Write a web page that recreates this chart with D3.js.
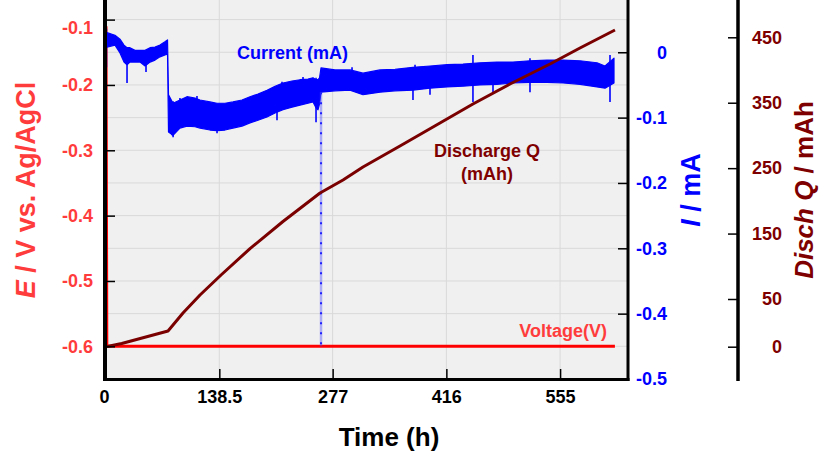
<!DOCTYPE html>
<html><head><meta charset="utf-8">
<script src="https://cdn.jsdelivr.net/npm/d3@7"></script>
<style>
body{margin:0;background:#fff;}
svg text{font-family:"Liberation Sans",Arial,sans-serif;font-weight:bold;}
</style></head><body><svg id="c" width="836" height="468"></svg>
<script>
// ---------- data ----------
const timeTicks = [0, 138.5, 277, 416, 555];
const eTicks = [-0.1, -0.2, -0.3, -0.4, -0.5, -0.6];
const eGrid = [-0.1, -0.15, -0.2, -0.25, -0.3, -0.35, -0.4, -0.45, -0.5, -0.55, -0.6];
const iTicks = [0, -0.1, -0.2, -0.3, -0.4, -0.5];
const qTicks = [0, 50, 150, 250, 350, 450];

// current (mA): noisy band, upper and lower envelope
const currentTime = [1.2, 11, 17.1, 22, 25.7, 29.3, 35.4, 41.6, 47.7, 53.8, 59.9, 66, 72.1, 75.2, 76.4, 81.9, 90.4, 99, 108.8, 114.9, 127.1, 135.7, 145.4, 155.2, 166.2, 176, 185.8, 196.8, 206.6, 216.3, 227.3, 237.1, 246.9, 253, 256.7, 259.1, 261, 262.8, 279.9, 298.2, 314.1, 334.9, 353.2, 375.2, 396, 416.8, 436.3, 457.1, 477.9, 497.4, 518.2, 539, 558.6, 579.3, 600.1, 609.9, 620.9];
const currentHigh = [0.030, 0.026, 0.020, 0.011, 0.007, 0.007, 0.003, 0.003, 0.003, 0.007, 0.008, 0.011, 0.016, 0.019, -0.065, -0.078, -0.073, -0.068, -0.070, -0.073, -0.076, -0.078, -0.078, -0.076, -0.073, -0.068, -0.064, -0.058, -0.052, -0.047, -0.044, -0.042, -0.041, -0.039, -0.042, -0.042, -0.039, -0.024, -0.027, -0.027, -0.032, -0.027, -0.026, -0.023, -0.021, -0.019, -0.018, -0.016, -0.015, -0.015, -0.013, -0.012, -0.012, -0.013, -0.016, -0.021, -0.009];
const currentLow = [0.008, 0.011, -0.001, -0.015, -0.019, -0.015, -0.015, -0.015, -0.021, -0.015, -0.012, -0.007, -0.004, -0.003, -0.122, -0.127, -0.116, -0.113, -0.114, -0.116, -0.119, -0.120, -0.119, -0.116, -0.113, -0.108, -0.104, -0.099, -0.093, -0.088, -0.084, -0.081, -0.078, -0.076, -0.085, -0.088, -0.079, -0.061, -0.059, -0.058, -0.065, -0.061, -0.059, -0.058, -0.055, -0.053, -0.052, -0.050, -0.049, -0.047, -0.046, -0.046, -0.047, -0.049, -0.053, -0.055, -0.047];
// short current spikes (noise excursions)
const spikeTime = [0.5, 25.7, 48.9, 82, 256.7, 375.2, 448.5, 616, 80.7, 92.9, 135.7, 160.1, 209, 90.4, 111.2, 215.1, 240.8, 300.7, 377.7, 518.2, 579.3, 396, 473];
const spikeHigh = [0.036, 0.007, 0.003, -0.075, -0.039, -0.023, -0.004, -0.004, -0.100, -0.100, -0.100, -0.100, -0.080, -0.070, -0.067, -0.045, -0.038, -0.023, -0.019, -0.009, -0.015, -0.040, -0.040];
const spikeLow = [-0.023, -0.047, -0.030, -0.130, -0.107, -0.073, -0.076, -0.076, -0.127, -0.114, -0.124, -0.114, -0.104, -0.090, -0.090, -0.070, -0.060, -0.040, -0.040, -0.061, -0.030, -0.065, -0.061];
// the deep current dip near 262 h
const dropTime = [262.8];
const dropHigh = [-0.061];
const dropLow = [-0.45];

// discharge capacity Q (mAh)
const qTime = [0, 19.2, 75.8, 94.1, 114.9, 140.6, 176, 216.3, 261.6, 289.7, 314.1, 359.3, 408.2, 448.5, 493.8, 542.7, 579.3, 622.1];
const qValue = [0, 3.4, 16.5, 35.3, 56.1, 86.7, 127, 168.5, 212, 231.9, 251.7, 283.8, 319, 348, 378.6, 409.2, 433.6, 461.1];

// voltage (V vs Ag/AgCl)
const voltTime = [0, 1, 622];
const voltValue = [-0.11, -0.6, -0.6];

// ---------- drawing ----------
const svg = d3.select("#c");
const L = 105, R = 628, T = 0, B = 379;

const x = d3.scaleLinear([0, 638], [106, 628]);
const yE = d3.scaleLinear([-0.65, -0.07], [379, 0]);
const yI = d3.scaleLinear([-0.5, 0.08], [379, 0]);
const yQ = d3.scaleLinear([-34, 0, 50, 507], [379, 346.7, 299, 0]);

const cRed = "#ff3c3c", cBlue = "#0000ff", cMaroon = "#7f0000";

svg.append("rect").attr("width", 836).attr("height", 468).attr("fill", "#fff");
svg.append("rect").attr("x", L).attr("y", T).attr("width", R - L).attr("height", B - T).attr("fill", "#f0f0f0");

// grid
svg.append("g").selectAll("line").data(eGrid).join("line")
  .attr("x1", L).attr("x2", R).attr("y1", d => yE(d)).attr("y2", d => yE(d))
  .attr("stroke", "#d9d9d9").attr("stroke-width", 1);
svg.append("g").selectAll("line").data(timeTicks.slice(1)).join("line")
  .attr("x1", d => x(d)).attr("x2", d => x(d)).attr("y1", T).attr("y2", B)
  .attr("stroke", "#d9d9d9").attr("stroke-width", 1);

svg.append("clipPath").attr("id", "clip").append("rect")
  .attr("x", L).attr("y", T).attr("width", R - L).attr("height", B - T);
const plot = svg.append("g").attr("clip-path", "url(#clip)");

// voltage
plot.append("path")
  .attr("d", d3.line().x((d, i) => x(voltTime[i])).y(d => yE(d))(voltValue))
  .attr("fill", "none").attr("stroke", "#ff0000").attr("stroke-width", 3);

// current band
const band = currentTime.map((t, i) => ({t, hi: currentHigh[i], lo: currentLow[i]}));
plot.append("path")
  .attr("d", d3.area().x(d => x(d.t)).y0(d => yI(d.lo)).y1(d => yI(d.hi))(band))
  .attr("fill", cBlue).attr("stroke", cBlue).attr("stroke-width", 1.2).attr("stroke-linejoin", "round");
plot.append("g").selectAll("line").data(spikeTime).join("line")
  .attr("x1", d => x(d)).attr("x2", d => x(d))
  .attr("y1", (d, i) => yI(spikeHigh[i])).attr("y2", (d, i) => yI(spikeLow[i]))
  .attr("stroke", cBlue).attr("stroke-width", 1.6);
plot.append("g").selectAll("line").data(dropTime).join("line")
  .attr("x1", d => x(d)).attr("x2", d => x(d))
  .attr("y1", (d, i) => yI(dropHigh[i])).attr("y2", (d, i) => yI(dropLow[i]))
  .attr("stroke", "rgba(70,70,255,0.4)").attr("stroke-width", 2.5);
plot.append("g").selectAll("line").data(dropTime).join("line")
  .attr("x1", d => x(d)).attr("x2", d => x(d))
  .attr("y1", (d, i) => yI(dropHigh[i])).attr("y2", (d, i) => yI(dropLow[i]))
  .attr("stroke", "#2020ff").attr("stroke-width", 2).attr("stroke-dasharray", "2,8");

// discharge Q
plot.append("path")
  .attr("d", d3.line().x((d, i) => x(qTime[i])).y(d => yQ(d))(qValue))
  .attr("fill", "none").attr("stroke", "#7a0000").attr("stroke-width", 3).attr("stroke-linejoin", "round");

// frame
svg.append("line").attr("x1", L).attr("x2", L).attr("y1", 0).attr("y2", B + 2).attr("stroke", "#000").attr("stroke-width", 4);
svg.append("line").attr("x1", L - 2).attr("x2", R + 1.5).attr("y1", B + 0.5).attr("y2", B + 0.5).attr("stroke", "#000").attr("stroke-width", 3);
svg.append("line").attr("x1", R).attr("x2", R).attr("y1", 0).attr("y2", B + 2).attr("stroke", "#000").attr("stroke-width", 3);

function styleAxis(g, color) {
  g.select(".domain").remove();
  g.selectAll(".tick line").attr("stroke", "#000").attr("stroke-width", 1.5);
  g.selectAll(".tick text").attr("fill", color).style("font-size", "18px");
}
const fmt = d => String(d);

// left E axis
const gE = svg.append("g").attr("transform", `translate(${L},0)`)
  .call(d3.axisLeft(yE).tickValues(eTicks).tickSize(-10).tickPadding(12).tickFormat(fmt));
styleAxis(gE, cRed);
gE.selectAll(".tick text").filter(d => d === -0.1).attr("y", 8);

// bottom time axis
const gX = svg.append("g").attr("transform", `translate(0,${B})`)
  .call(d3.axisBottom(x).tickValues(timeTicks).tickSize(-10).tickPadding(11).tickFormat(fmt));
styleAxis(gX, "#000");
gX.selectAll(".tick").filter(d => d === 0).select("line").remove();
gX.selectAll(".tick text").filter(d => d === 0).attr("x", -2);

// right I axis
const gI = svg.append("g").attr("transform", `translate(${R},0)`)
  .call(d3.axisRight(yI).tickValues(iTicks).tickSize(-10).tickFormat(fmt));
styleAxis(gI, cBlue);
gI.selectAll(".tick").filter(d => d === -0.5).select("line").remove();
gI.selectAll(".tick text").attr("text-anchor", "end").attr("x", 39);

// far right Q axis
const QX = 738;
svg.append("line").attr("x1", QX).attr("x2", QX).attr("y1", 0).attr("y2", 381).attr("stroke", "#000").attr("stroke-width", 3.5);
const gQ = svg.append("g").attr("transform", `translate(${QX},0)`)
  .call(d3.axisRight(yQ).tickValues(qTicks).tickSize(-10).tickFormat(fmt));
styleAxis(gQ, cMaroon);
gQ.selectAll(".tick text").attr("text-anchor", "end").attr("x", 44);

// axis titles
svg.append("text").attr("x", 389).attr("y", 446).attr("text-anchor", "middle")
  .style("font-size", "26px").attr("fill", "#000").text("Time (h)");

const tE = svg.append("text").attr("transform", "translate(35,190) rotate(-90)")
  .attr("text-anchor", "middle").style("font-size", "27px").attr("fill", cRed);
tE.append("tspan").style("font-style", "italic").text("E");
tE.append("tspan").text(" / V vs. Ag/AgCl");

const tI = svg.append("text").attr("transform", "translate(700,190) rotate(-90)")
  .attr("text-anchor", "middle").style("font-size", "27px").attr("fill", cBlue);
tI.append("tspan").style("font-style", "italic").text("I");
tI.append("tspan").text(" / mA");

const tQ = svg.append("text").attr("transform", "translate(813,190) rotate(-90)")
  .attr("text-anchor", "middle").style("font-size", "26px").attr("fill", cMaroon);
tQ.append("tspan").style("font-style", "italic").text("Disch Q");
tQ.append("tspan").text(" / mAh");

// series labels
svg.append("text").attr("x", 237).attr("y", 59).style("font-size", "18px").attr("fill", cBlue).text("Current (mA)");
svg.append("text").attr("x", 487).attr("y", 157).attr("text-anchor", "middle").style("font-size", "18px").attr("fill", cMaroon).text("Discharge Q");
svg.append("text").attr("x", 487).attr("y", 180).attr("text-anchor", "middle").style("font-size", "18px").attr("fill", cMaroon).text("(mAh)");
svg.append("text").attr("x", 607).attr("y", 337).attr("text-anchor", "end").style("font-size", "18px").attr("fill", cRed).text("Voltage(V)");
</script></body></html>
